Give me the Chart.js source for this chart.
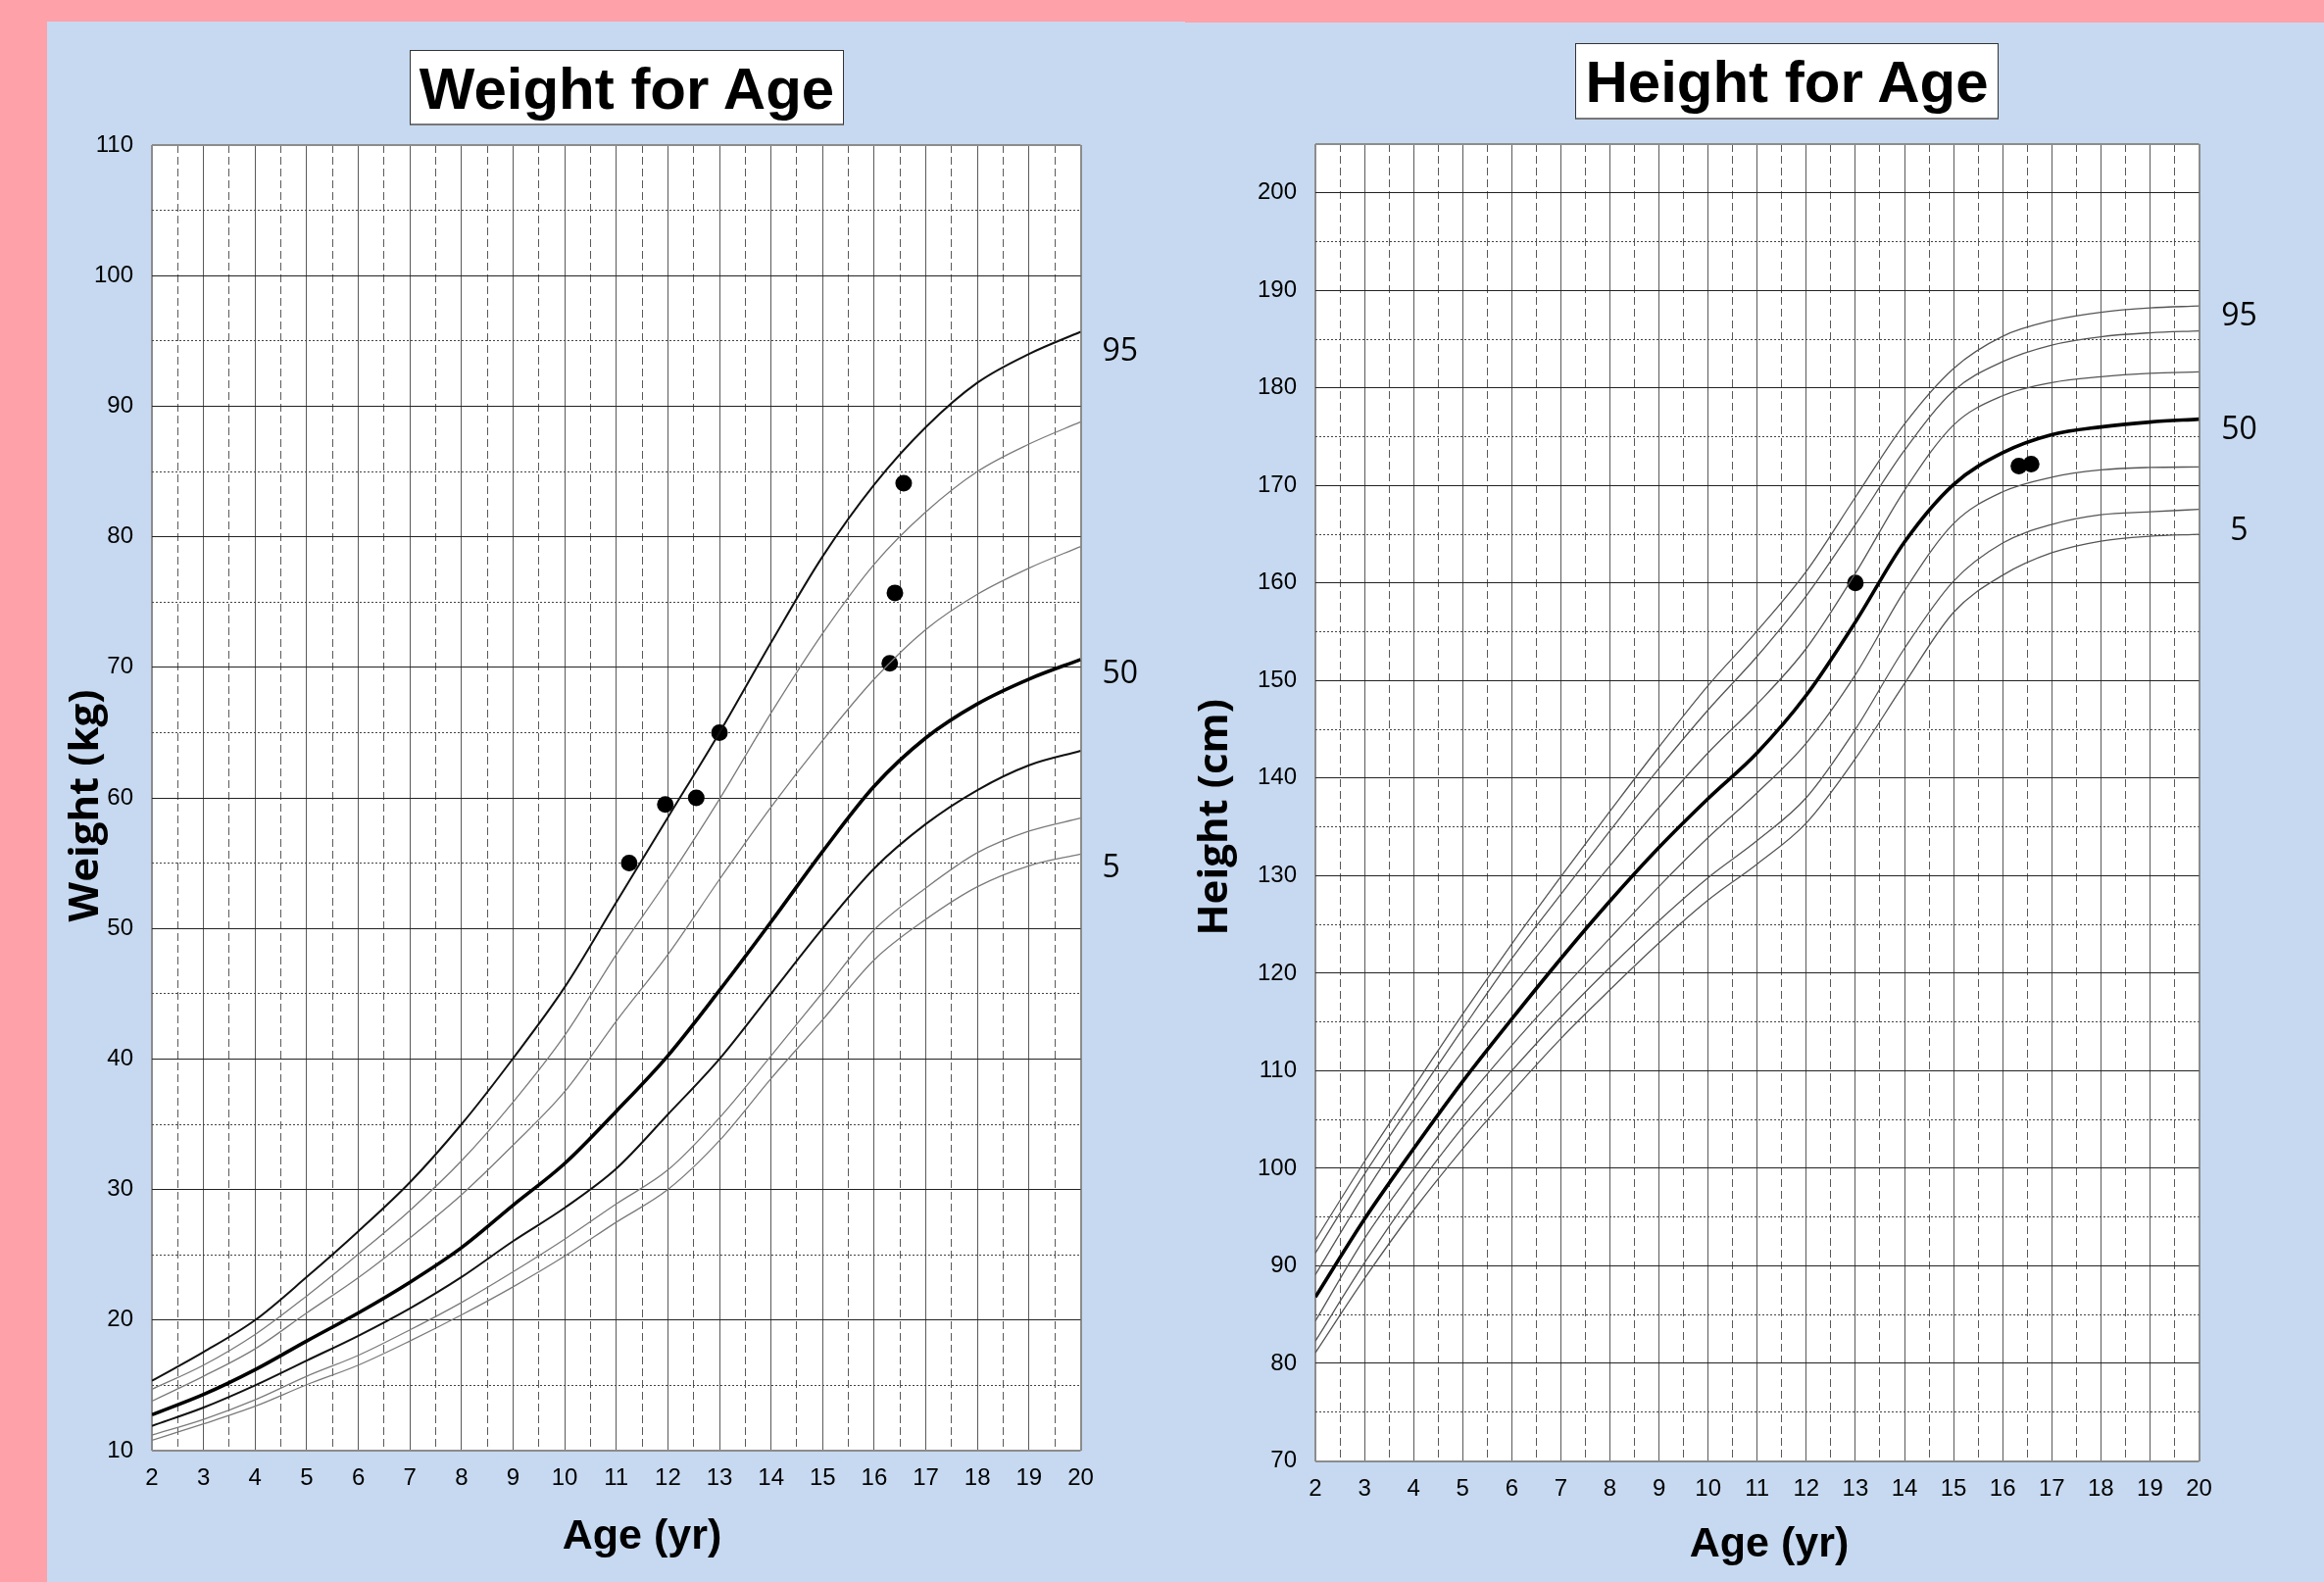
<!DOCTYPE html>
<html>
<head>
<meta charset="utf-8">
<title>Weight and Height for Age</title>
<script src="https://cdn.jsdelivr.net/npm/chart.js@4.4.1/dist/chart.umd.min.js"></script>
<style>
  html, body { margin: 0; padding: 0; }
  body {
    width: 2371px; height: 1614px; position: relative; overflow: hidden;
    background: #ffa1a9;
    font-family: "Liberation Sans", Arial, sans-serif;
  }
  .panel { position: absolute; background: #c6d9f0; }
  .panel canvas { position: absolute; left: 0; top: 0; }
  #leftPanel { left: 48px; top: 22px; width: 1161px; height: 1592px; }
  #rightPanel { left: 1209px; top: 23px; width: 1162px; height: 1591px; }
  .title-box {
    position: absolute; box-sizing: border-box;
    background: #fff; color: #000;
    border: 1px solid #333; border-bottom: 2px solid #777;
    font-weight: bold; font-size: 60px; line-height: 78px; text-align: center;
    white-space: nowrap;
  }
  #weightTitle { left: 418px; top: 51px; width: 443px; height: 77px; }
  #heightTitle { left: 1607px; top: 44px; width: 432px; height: 78px; }
</style>
</head>
<body>
<div class="panel" id="leftPanel"><canvas id="weightChart" width="1161" height="1592"></canvas></div>
<div class="panel" id="rightPanel"><canvas id="heightChart" width="1162" height="1591"></canvas></div>
<div class="title-box" id="weightTitle">Weight for Age</div>
<div class="title-box" id="heightTitle">Height for Age</div>

<script>
const ages = [2, 3, 4, 5, 6, 7, 8, 9, 10, 11, 12, 13, 14, 15, 16, 17, 18, 19, 20];

// Weight for age percentiles (kg).
const weightP95 = [15.35, 17.55, 20.0, 23.3, 26.8, 30.55, 35.0, 40.05, 45.5, 52.0, 58.5, 65.0, 71.9, 78.5, 84.0, 88.4, 91.8, 94.0, 95.7];
const weightP90 = [14.7, 16.55, 18.9, 21.85, 25.05, 28.4, 32.2, 36.7, 41.8, 48.0, 53.75, 59.9, 66.5, 72.6, 77.9, 81.9, 85.0, 87.1, 88.8];
const weightP75 = [13.8, 15.7, 17.8, 20.55, 23.25, 26.3, 29.6, 33.4, 37.5, 42.9, 48.0, 53.75, 59.3, 64.4, 69.1, 72.9, 75.6, 77.6, 79.25];
const weightP50 = [12.75, 14.3, 16.2, 18.4, 20.55, 22.9, 25.55, 28.8, 32.0, 36.0, 40.25, 45.25, 50.5, 55.9, 60.9, 64.6, 67.2, 69.1, 70.6];
const weightP25 = [11.9, 13.3, 15.0, 16.9, 18.8, 20.9, 23.3, 26.05, 28.6, 31.6, 35.75, 40.0, 45.0, 50.0, 54.6, 58.0, 60.6, 62.5, 63.6];
const weightP10 = [11.2, 12.4, 13.9, 15.7, 17.3, 19.25, 21.35, 23.7, 26.2, 28.9, 31.5, 35.5, 40.25, 45.1, 49.9, 53.1, 55.8, 57.45, 58.45];
const weightP5 = [10.8, 12.05, 13.4, 15.05, 16.55, 18.4, 20.4, 22.55, 24.9, 27.5, 30.0, 33.75, 38.5, 43.0, 47.6, 50.7, 53.2, 54.8, 55.7];

// Measured weights (age yr, kg).
const weightVisitAges = [11.25, 11.95, 12.55, 13.0, 16.3, 16.4, 16.57];
const weightVisitValues = [55, 59.5, 60, 65, 70.3, 75.7, 84.1];

// Height for age percentiles (cm).
const heightP95 = [92.65, 100.7, 108.3, 115.8, 123.0, 129.9, 136.6, 143.2, 149.5, 155.1, 161.2, 168.8, 176.3, 182.0, 185.3, 186.9, 187.75, 188.2, 188.4];
const heightP90 = [91.3, 99.4, 106.9, 114.3, 121.5, 128.1, 134.6, 141.0, 147.0, 152.5, 158.7, 166.0, 173.6, 179.7, 182.7, 184.4, 185.25, 185.65, 185.85];
const heightP75 = [89.1, 97.4, 105.0, 112.0, 118.5, 124.8, 131.0, 137.0, 142.6, 147.6, 153.3, 161.0, 169.5, 176.2, 179.2, 180.55, 181.15, 181.5, 181.65];
const heightP50 = [86.8, 94.8, 102.0, 108.9, 115.3, 121.5, 127.4, 132.9, 137.9, 142.6, 148.5, 156.0, 164.2, 170.1, 173.35, 175.2, 176.0, 176.5, 176.8];
const heightP25 = [84.35, 92.8, 99.9, 106.6, 112.6, 118.2, 123.6, 128.9, 133.9, 138.5, 143.6, 150.6, 159.2, 166.1, 169.35, 170.85, 171.6, 171.85, 171.9];
const heightP10 = [82.3, 90.3, 97.6, 104.2, 110.0, 115.5, 120.6, 125.4, 129.8, 133.6, 138.0, 145.0, 153.3, 160.2, 164.1, 166.0, 167.0, 167.3, 167.55];
const heightP5 = [81.1, 88.7, 95.7, 102.0, 107.8, 113.3, 118.3, 123.1, 127.5, 131.2, 135.4, 142.0, 149.7, 157.0, 160.8, 163.1, 164.3, 164.8, 165.0];

// Measured heights (age yr, cm).
const heightVisitAges = [13.0, 16.33, 16.58];
const heightVisitValues = [160, 172.0, 172.2];

// Axis ranges and the percentile tags written at the right of each plot.
const ageRange = [2, 20];
const weightRange = [10, 110];
const heightRange = [70, 205];
const percentileTags = ['95', '50', '5'];

Chart.defaults.font.family = '"Liberation Sans", Arial, sans-serif';
Chart.defaults.font.size = 24;
Chart.defaults.color = '#000';

//Turns two value arrays into {x, y} points.
function toPoints(xs, ys) {
	return xs.map(function (x, i) { return {x: x, y: ys[i]}; });
}

//A percentile curve: heavy, medium or thin line.
function curve(values, kind) {
	let style = {
		heavy: {color: '#000', width: 3.6},
		medium: {color: '#111', width: 2},
		thin: {color: '#7a7a7a', width: 1.3},
		thinDark: {color: '#555', width: 1.3}
	}[kind];
	return {
		data: toPoints(ages, values),
		borderColor: style.color,
		borderWidth: style.width,
		pointRadius: 0,
		cubicInterpolationMode: 'monotone',
		fill: false
	};
}

function visits(xs, ys) {
	return {
		data: toPoints(xs, ys),
		showLine: false,
		pointRadius: 8.5,
		pointHoverRadius: 8.5,
		pointBackgroundColor: '#000',
		pointBorderWidth: 0
	};
}

//Grid line look: frame, solid major lines and dashed / dotted minor lines.
function gridStyle(range, majorStep, minorDash, majorColor, minorColor) {
	function isEdge(v) { return v === range[0] || v === range[1]; }
	function isMajor(v) { return Math.abs(v / majorStep - Math.round(v / majorStep)) < 1e-6; }
	return {
		grid: {
			drawTicks: false,
			color: function (c) {
				if (!c.tick) return majorColor;
				if (isEdge(c.tick.value)) return '#8c8c8c';
				return isMajor(c.tick.value) ? majorColor : minorColor;
			},
			lineWidth: function (c) {
				return c.tick && isEdge(c.tick.value) ? 2 : 1;
			}
		},
		border: {
			display: false,
			dash: function (c) {
				if (!c.tick || isEdge(c.tick.value) || isMajor(c.tick.value)) return [];
				return minorDash;
			}
		}
	};
}

//White plot area, axis titles and percentile tags.
const chartExtras = {
	id: 'chartExtras',
	beforeDraw(chart) {
		let a = chart.chartArea;
		let ctx = chart.ctx;
		ctx.save();
		ctx.fillStyle = '#fff';
		ctx.fillRect(a.left, a.top, a.right - a.left, a.bottom - a.top);
		ctx.restore();
	},
	afterDraw(chart, args, opts) {
		let a = chart.chartArea;
		let ctx = chart.ctx;
		let y = chart.scales.y;
		ctx.save();
		ctx.fillStyle = '#000';
		ctx.textAlign = 'center';
		ctx.textBaseline = 'middle';

		ctx.font = 'bold 43px "Liberation Sans", Arial, sans-serif';
		ctx.fillText(opts.xTitle, a.left + opts.xTitleAt[0], a.bottom + opts.xTitleAt[1]);

		ctx.save();
		ctx.translate(a.left + opts.yTitleAt[0], (a.top + a.bottom) / 2 + opts.yTitleAt[1]);
		ctx.rotate(-Math.PI / 2);
		ctx.font = 'bold 42px "Open Sans", sans-serif';
		ctx.fillText(opts.yTitle, 0, 0);
		ctx.restore();

		ctx.font = '32px "Open Sans", sans-serif';
		ctx.textAlign = opts.tagAlign;
		opts.tags.forEach(function (t, i) {
			ctx.fillText(t, a.right + opts.tagDx, y.getPixelForValue(opts.tagValues[i]));
		});
		ctx.restore();
	}
};

//Builds one growth chart.
function growthChart(canvasId, datasets, yRange, box, extras) {
	let xGrid = gridStyle(ageRange, 1, [8, 4], '#5a5a5a', '#5a5a5a');
	let yGrid = gridStyle(yRange, 10, [2, 2], '#222', '#444');
	return new Chart(document.getElementById(canvasId), {
		type: 'line',
		data: {datasets: datasets},
		plugins: [chartExtras],
		options: {
			responsive: false,
			animation: false,
			devicePixelRatio: 1,
			layout: {padding: {left: 0, top: box.top, right: box.right, bottom: 0}},
			plugins: {
				legend: {display: false},
				tooltip: {enabled: false},
				chartExtras: extras
			},
			scales: {
				x: {
					type: 'linear',
					min: ageRange[0],
					max: ageRange[1],
					afterFit: function (s) { s.height = box.xAxisHeight; },
					ticks: {
						stepSize: 0.5,
						autoSkip: false,
						maxRotation: 0,
						padding: 14,
						callback: function (v) { return Number.isInteger(v) ? v : ''; }
					},
					grid: xGrid.grid,
					border: xGrid.border
				},
				y: {
					type: 'linear',
					min: yRange[0],
					max: yRange[1],
					afterFit: function (s) { s.width = box.yAxisWidth; },
					ticks: {
						stepSize: 5,
						autoSkip: false,
						padding: 19,
						callback: function (v) { return v % 10 === 0 ? v : ''; }
					},
					grid: yGrid.grid,
					border: yGrid.border
				}
			}
		}
	});
}

//Weight for age.
var weightChart = growthChart('weightChart', [
	curve(weightP95, 'medium'),
	curve(weightP90, 'thin'),
	curve(weightP75, 'thin'),
	curve(weightP50, 'heavy'),
	curve(weightP25, 'medium'),
	curve(weightP10, 'thin'),
	curve(weightP5, 'thin'),
	visits(weightVisitAges, weightVisitValues)
], weightRange, {top: 126, right: 106.5, yAxisWidth: 107, xAxisHeight: 134}, {
	xTitle: 'Age (yr)', xTitleAt: [500, 88],
	yTitle: 'Weight (kg)', yTitleAt: [-67, 8],
	tags: percentileTags, tagValues: [94.2, 69.5, 54.6], tagDx: 22, tagAlign: 'left'
});

//Height for age.
var heightChart = growthChart('heightChart', [
	curve(heightP95, 'thinDark'),
	curve(heightP90, 'thinDark'),
	curve(heightP75, 'thinDark'),
	curve(heightP50, 'heavy'),
	curve(heightP25, 'thinDark'),
	curve(heightP10, 'thinDark'),
	curve(heightP5, 'thinDark'),
	visits(heightVisitAges, heightVisitValues)
], heightRange, {top: 124, right: 127.5, yAxisWidth: 133, xAxisHeight: 123.5}, {
	xTitle: 'Age (yr)', xTitleAt: [463, 86],
	yTitle: 'Height (cm)', yTitleAt: [-102, 15],
	tags: percentileTags, tagValues: [187.3, 175.7, 165.3], tagDx: 41, tagAlign: 'center'
});
</script>
</body>
</html>
